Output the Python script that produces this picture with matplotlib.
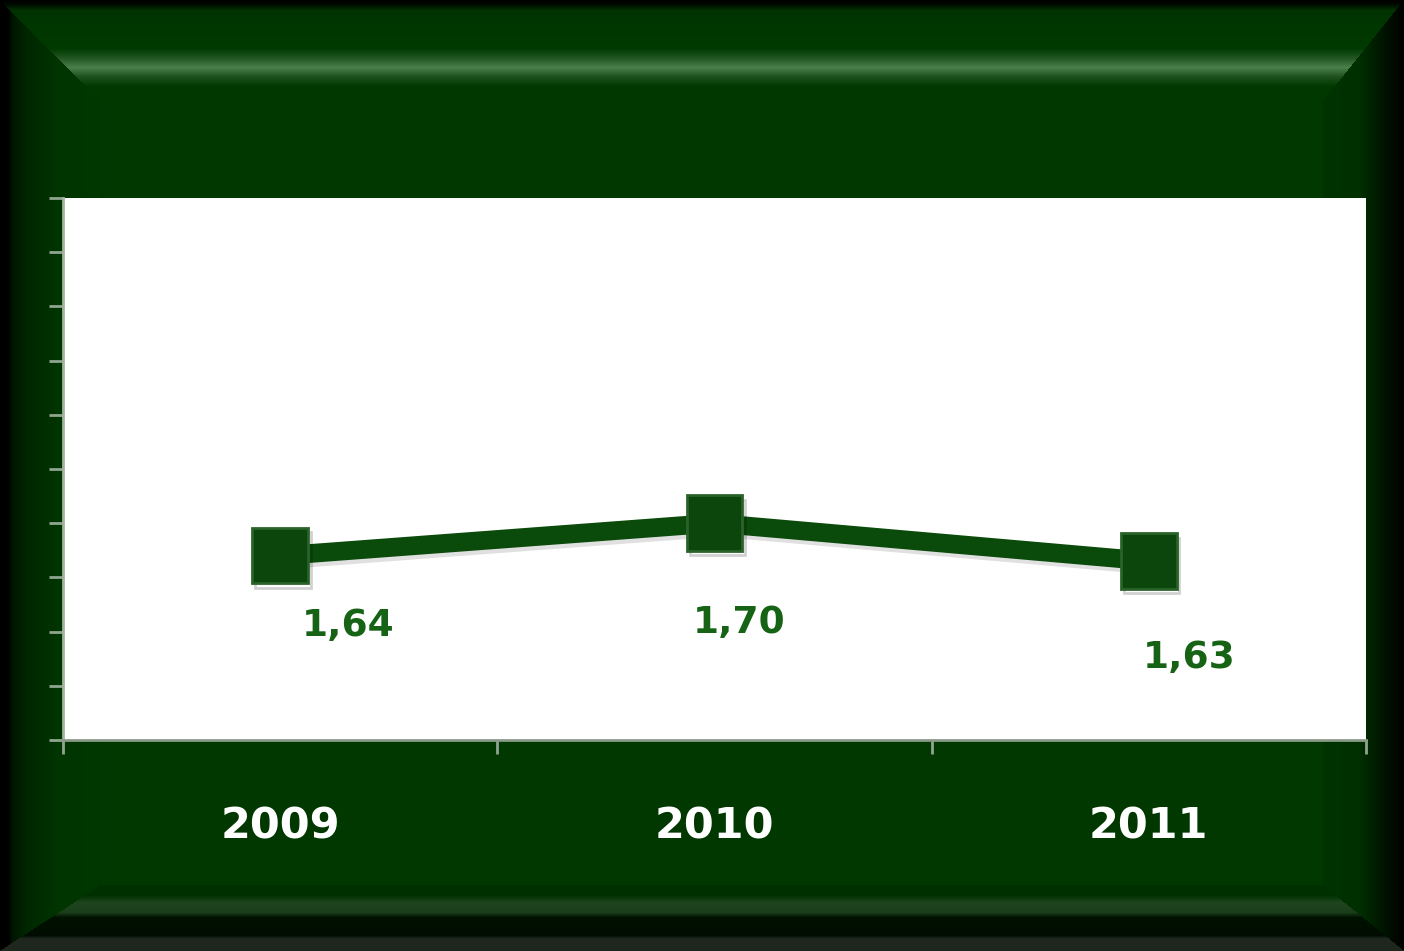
import numpy as np
import matplotlib
matplotlib.use('Agg')
from matplotlib import pyplot as plt
from matplotlib import patheffects as pe

years = ['2009', '2010', '2011']
values = [1.64, 1.70, 1.63]
value_labels = ['1,64', '1,70', '1,63']
y_min, y_max, y_step = 1.3, 2.3, 0.1

W, H = 1404, 951
fig = plt.figure(figsize=(W / 100, H / 100), dpi=100)


# beveled dark green frame behind the chart
def profile(d, pts):
    xs = [p[0] for p in pts]
    return np.stack([np.interp(d, xs, [p[1][c] for p in pts]) for c in range(3)], axis=-1)


yy, xx = np.mgrid[0:H, 0:W].astype(float)
base = np.array([0.0, 0.22, 0.0])
top = profile(yy, [(0, (0, 0, 0)), (4, (0, .04, 0)), (10, (0, .2, 0)), (48, (0, .23, 0)),
                   (58, (.14, .34, .14)), (67, (.29, .5, .29)), (76, (.12, .32, .12)),
                   (86, (0, .22, 0)), (200, (0, .22, 0))])
db = H - 1 - yy
bot = profile(db, [(0, (.12, .15, .12)), (12, (.12, .15, .12)), (15, (0, .05, 0)), (33, (0, .07, 0)),
                   (38, (.1, .24, .1)), (48, (.12, .27, .12)), (55, (0, .19, 0)), (120, (0, .2, 0))])
left = profile(xx, [(0, (0, 0, 0)), (8, (0, 0, 0)), (12, (0, .08, 0)), (25, (0, .15, 0)),
                    (60, (0, .21, 0)), (200, (0, .22, 0))])
dr = W - 1 - xx
right = profile(dr, [(0, (0, 0, 0)), (5, (0, .02, 0)), (20, (0, .08, 0)), (45, (0, .19, 0)),
                     (200, (0, .21, 0))])

nt, nb, nl, nr = yy / 100, db / 65, xx / 100, dr / 80
stack = np.stack([nt, nb, nl, nr])
which = np.argmin(stack, axis=0)
inside = stack.min(axis=0) > 1
img = np.where((which == 0)[..., None], top,
      np.where((which == 1)[..., None], bot,
      np.where((which == 2)[..., None], left, right)))
img[inside] = base
bg = fig.add_axes([0, 0, 1, 1], zorder=0)
bg.imshow(img, aspect='auto', interpolation='bilinear')
bg.axis('off')

# plot area
ax = fig.add_axes([63 / W, 1 - 740 / H, (1366 - 63) / W, (740 - 198) / H], zorder=1)
ax.set_facecolor('white')
x = np.arange(len(years))
ax.plot(x, values, color='#0a4a0a', lw=13.5, solid_capstyle='butt', zorder=2,
        path_effects=[pe.SimpleLineShadow(offset=(2, -3), alpha=0.12), pe.Normal()])
ax.plot(x, values, ls='none', marker='s', ms=40, mfc='#0d460d', mec='#2a632a', mew=2, zorder=3,
        path_effects=[pe.SimpleLineShadow(offset=(2, -3), alpha=0.18), pe.Normal()])

offsets = [(68, -70), (25, -100), (40, -97)]
for xi, v, lab, off in zip(x, values, value_labels, offsets):
    ax.annotate(lab, (xi, v), xytext=off, textcoords='offset pixels', ha='center', va='center',
                fontsize=27, fontweight='bold', color='#166316', family='DejaVu Sans')

ax.set_xlim(-0.5, len(years) - 0.5)
ax.set_ylim(y_min, y_max)
ax.set_yticks(np.arange(y_min, y_max + y_step / 2, y_step))
ax.set_yticklabels([])
ax.set_xticks(x)
ax.set_xticklabels(years, fontsize=31, fontweight='bold', color='white')
ax.set_xticks(np.arange(-0.5, len(years)), minor=True)
ax.tick_params(axis='x', which='major', length=0, pad=47)
ax.tick_params(axis='x', which='minor', length=10, width=2, color='#8fa58f', direction='out')
ax.tick_params(axis='y', length=10, width=2, color='#8fa58f', direction='out')
for s in ['top', 'right']:
    ax.spines[s].set_visible(False)
ax.spines['left'].set_color('#9fb59f')
ax.spines['bottom'].set_color('#8a9a8a')
ax.spines['left'].set_linewidth(2)
ax.spines['bottom'].set_linewidth(2)

plt.savefig('out.png', dpi=100)
